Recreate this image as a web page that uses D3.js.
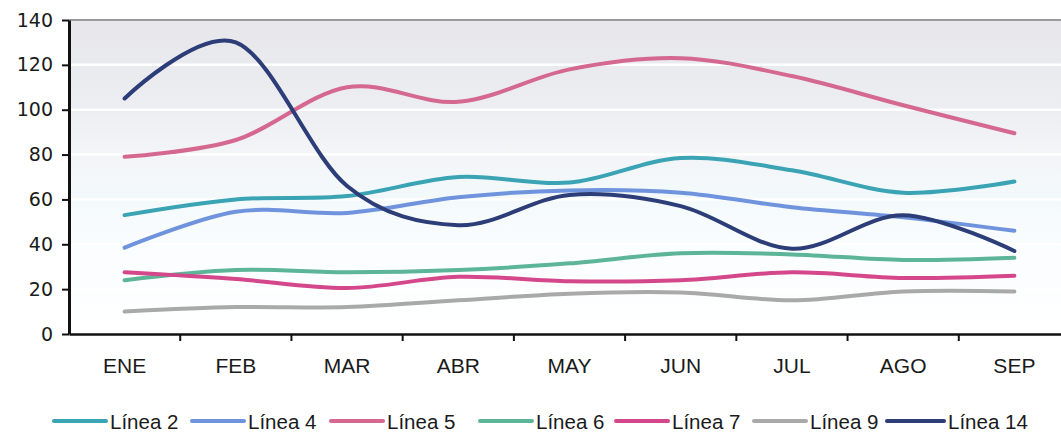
<!DOCTYPE html>
<html>
<head>
<meta charset="utf-8">
<script src="https://cdn.jsdelivr.net/npm/d3@7/dist/d3.min.js"></script>
<style>
  html, body { margin: 0; padding: 0; background: #ffffff; }
  svg { display: block; }
</style>
</head>
<body>
<svg id="chart" width="1061" height="432"></svg>
<script>
// Monthly values per line
const months = ["ENE", "FEB", "MAR", "ABR", "MAY", "JUN", "JUL", "AGO", "SEP"];
const yTicks = [0, 20, 40, 60, 80, 100, 120, 140];

const linea2  = [53, 60, 61.5, 70, 67.5, 78.5, 73, 63, 68];
const linea4  = [38.5, 54.5, 54, 61, 64, 63, 56.5, 52, 46];
const linea5  = [79, 86.5, 110, 103.5, 118, 123, 115, 102, 89.5];
const linea6  = [24, 28.5, 27.5, 28.5, 31.5, 36, 35.5, 33, 34];
const linea7  = [27.5, 24.5, 20.5, 25.5, 23.5, 24, 27.5, 25, 26];
const linea9  = [10, 12, 12, 15, 18, 18.5, 15, 19, 19];
const linea14 = [105, 130, 66, 48.5, 62, 57, 38, 53, 37];

const seriesNames  = ["Línea 2", "Línea 4", "Línea 5", "Línea 6", "Línea 7", "Línea 9", "Línea 14"];
const seriesValues = [linea2, linea4, linea5, linea6, linea7, linea9, linea14];
const seriesColors = ["#3aa3b4", "#6f93dc", "#d5688f", "#5db597", "#d4488b", "#a9a9a9", "#2c3d78"];

const series = seriesNames.map((name, i) => ({ name, values: seriesValues[i], color: seriesColors[i] }));

const svg = d3.select("#chart");
const plotLeft = 69, plotRight = 1070, plotTop = 20, plotBottom = 334;

const x = d3.scaleBand().domain(months).range([plotLeft, plotRight]);
const y = d3.scaleLinear().domain([0, 140]).range([plotBottom, plotTop]);

// Plot area background: grey at the top fading through a pale cyan to white
const defs = svg.append("defs");
const grad = defs.append("linearGradient")
  .attr("id", "bg").attr("x1", 0).attr("y1", 0).attr("x2", 0).attr("y2", 1);
[[0, "#e7e7eb"], [0.29, "#edeef1"], [0.43, "#f3f5f7"], [0.56, "#f3f9fb"], [0.72, "#fafdfe"], [1, "#ffffff"]]
  .forEach(([o, c]) => grad.append("stop").attr("offset", o).attr("stop-color", c));

svg.append("rect")
  .attr("x", plotLeft).attr("y", plotTop)
  .attr("width", plotRight - plotLeft).attr("height", plotBottom - plotTop)
  .attr("fill", "url(#bg)");

// White horizontal gridlines
svg.append("g")
  .selectAll("line")
  .data(yTicks.filter(d => d > 0 && d < 140))
  .join("line")
  .attr("x1", plotLeft).attr("x2", plotRight)
  .attr("y1", d => y(d)).attr("y2", d => y(d))
  .attr("stroke", "#ffffff").attr("stroke-width", 2.5);

// Top border of the plot
svg.append("line")
  .attr("x1", plotLeft).attr("x2", plotRight)
  .attr("y1", y(140)).attr("y2", y(140))
  .attr("stroke", "#9a9a9a").attr("stroke-width", 2);

// Smoothed series lines
const line = d3.line()
  .x((d, i) => x(months[i]) + x.bandwidth() / 2)
  .y(d => y(d))
  .curve(d3.curveCardinal.tension(0));

svg.append("g")
  .selectAll("path")
  .data(series)
  .join("path")
  .attr("d", d => line(d.values))
  .attr("fill", "none")
  .attr("stroke", d => d.color)
  .attr("stroke-width", 4)
  .attr("stroke-linecap", "round")
  .attr("stroke-linejoin", "round");

// Y axis
const yAxis = svg.append("g")
  .attr("transform", `translate(${plotLeft},0)`)
  .call(d3.axisLeft(y).tickValues(yTicks).tickSize(7).tickPadding(9).tickSizeOuter(0));
yAxis.select(".domain").attr("stroke", "#111").attr("stroke-width", 3);
yAxis.selectAll(".tick line").attr("stroke", "#111").attr("stroke-width", 2);
yAxis.selectAll(".tick text")
  .attr("fill", "#1a1a1a")
  .style("font-family", "'DejaVu Sans', Verdana, sans-serif")
  .style("font-size", "19px");

// X axis
const xAxis = svg.append("g")
  .attr("transform", `translate(0,${plotBottom})`)
  .call(d3.axisBottom(x).tickSize(0).tickPadding(24).tickSizeOuter(0));
xAxis.select(".domain").attr("stroke", "#111").attr("stroke-width", 2.5);
xAxis.selectAll(".tick text")
  .attr("fill", "#1a1a1a")
  .style("font-family", "'Liberation Sans', Arial, sans-serif")
  .style("font-size", "21px");

// Tick marks between month bands
svg.append("g")
  .selectAll("line")
  .data(months.slice(1))
  .join("line")
  .attr("x1", d => x(d)).attr("x2", d => x(d))
  .attr("y1", plotBottom).attr("y2", plotBottom + 7)
  .attr("stroke", "#111").attr("stroke-width", 2);

// Legend: sample line followed by the series name
const legendTextX = [110, 248, 387, 536, 672, 810, 948];
const legend = svg.append("g").attr("transform", "translate(0,421)");
const items = legend.selectAll("g")
  .data(series)
  .join("g")
  .attr("transform", (d, i) => `translate(${legendTextX[i]},0)`);
items.append("line")
  .attr("x1", (d, i) => i === 6 ? -61 : -56).attr("x2", -4)
  .attr("y1", 0).attr("y2", 0)
  .attr("stroke", d => d.color).attr("stroke-width", 4)
  .attr("stroke-linecap", "round");
items.append("text")
  .attr("x", 0)
  .attr("y", 7.5)
  .attr("fill", "#1a1a1a")
  .style("font-family", "'Liberation Sans', Arial, sans-serif")
  .style("font-size", "20.5px")
  .text(d => d.name);
</script>
</body>
</html>
